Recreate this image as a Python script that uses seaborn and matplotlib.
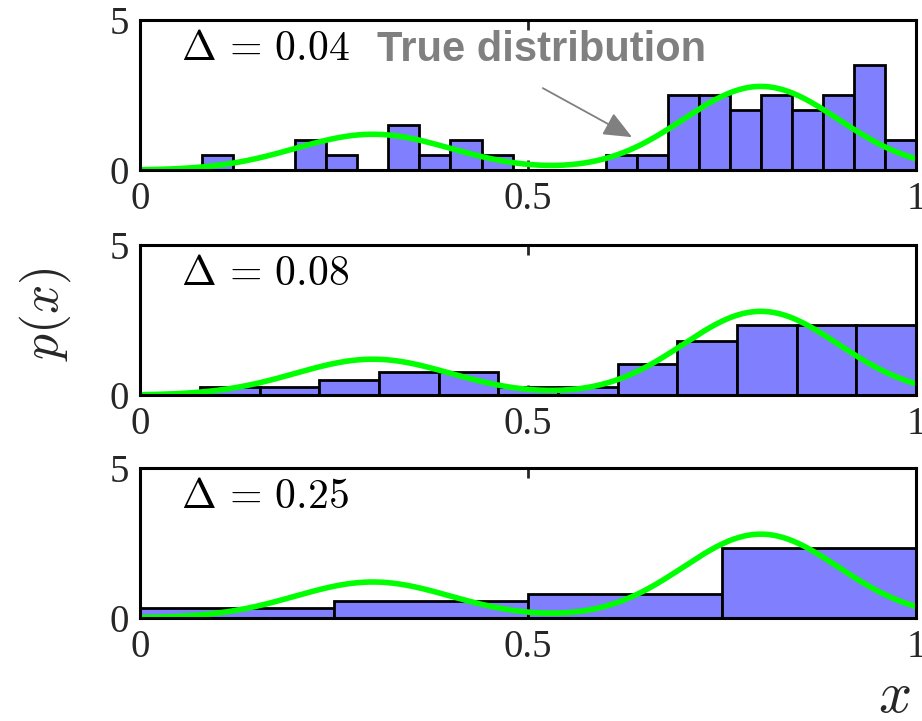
import numpy as np
import pandas as pd
import matplotlib
matplotlib.use("Agg")
import matplotlib.pyplot as plt
import seaborn as sns

# Histogram densities for three bin widths (N = 50 samples)
heights_004 = [0, 0, 0.5, 0, 0, 1.0, 0.5, 0, 1.5, 0.5, 1.0, 0.5, 0,
               0, 0, 0.5, 0.5, 2.5, 2.5, 2.0, 2.5, 2.0, 2.5, 3.5, 1.0]
heights_008 = [0, 0.26, 0.26, 0.52, 0.78, 0.78, 0.26, 0.26,
               1.04, 1.82, 2.34, 2.34, 2.34]
heights_025 = [0.32, 0.56, 0.80, 2.32]
panel_labels = [r"$\Delta\,=\,0.04$", r"$\Delta\,=\,0.08$", r"$\Delta\,=\,0.25$"]
x_ticks = [0, 0.5, 1]
x_tick_labels = ["0", "0.5", "1"]
y_ticks = [0, 5]
y_tick_labels = ["0", "5"]

# True density: mixture of two Gaussians
mix_weights = [0.3, 0.7]
mix_means = [0.3, 0.8]
mix_sigmas = [0.1, 0.1]

sns.set_theme(style="white")
plt.rcParams["mathtext.fontset"] = "cm"
plt.rcParams["font.family"] = ["Liberation Serif", "DejaVu Serif"]

xs = np.linspace(0, 1, 400)
true_pdf = sum(w * np.exp(-(xs - m) ** 2 / (2 * s ** 2)) / (s * np.sqrt(2 * np.pi))
               for w, m, s in zip(mix_weights, mix_means, mix_sigmas))
curve = pd.DataFrame({"x": xs, "p": true_pdf})

fig = plt.figure(figsize=(9.22, 7.21), dpi=100)
left, width = 0.152, 0.8415
bottoms = [0.764, 0.452, 0.143]
height = 0.208

for i, heights in enumerate([heights_004, heights_008, heights_025]):
    ax = fig.add_axes([left, bottoms[i], width, height])
    n = len(heights)
    edges = [float(e) for e in np.linspace(0, 1, n + 1)]
    centers = [(edges[k] + edges[k + 1]) / 2 for k in range(n)]
    df = pd.DataFrame({"x": centers, "h": heights})
    df = df[df["h"] > 0]
    sns.histplot(data=df, x="x", weights="h", bins=edges, stat="count",
                 color="#8080ff", alpha=1.0, edgecolor="black", linewidth=2,
                 ax=ax)
    sns.lineplot(data=curve, x="x", y="p", color="#00ff00", linewidth=4,
                 ax=ax)
    ax.set_xlim(0, 1)
    ax.set_ylim(0, 5)
    ax.set_xticks(x_ticks)
    ax.set_xticklabels(x_tick_labels)
    ax.set_yticks(y_ticks)
    ax.set_yticklabels(y_tick_labels)
    ax.set_xlabel("")
    ax.set_ylabel("")
    ax.tick_params(direction="in", length=7, width=2, labelsize=28, pad=8,
                   top=True, bottom=True, left=False, right=False)
    for sp in ax.spines.values():
        sp.set_linewidth(2.2)
        sp.set_color("black")
        sp.set_visible(True)
    ax.text(0.053, 0.8, panel_labels[i], transform=ax.transAxes,
            fontsize=30, va="center", ha="left", color="black")
    if i == 0:
        ax.text(0.518, 0.8, "True distribution", transform=ax.transAxes,
                fontsize=30, fontweight="bold", color="#808080",
                family="Liberation Sans", ha="center", va="center")
        ax.annotate("", xy=(0.634, 0.22), xycoords="axes fraction",
                    xytext=(0.519, 0.547), textcoords="axes fraction",
                    arrowprops=dict(arrowstyle="-|>,head_length=0.7,head_width=0.3",
                                    color="#808080", lw=1.3,
                                    mutation_scale=25, shrinkA=0, shrinkB=0))

fig.text(0.049, 0.565, r"$p(x)$", rotation=90, fontsize=37, ha="center", va="center")
fig.text(0.970, 0.032, r"$x$", fontsize=42, ha="center", va="center")

fig.savefig("out.png", dpi=100)
